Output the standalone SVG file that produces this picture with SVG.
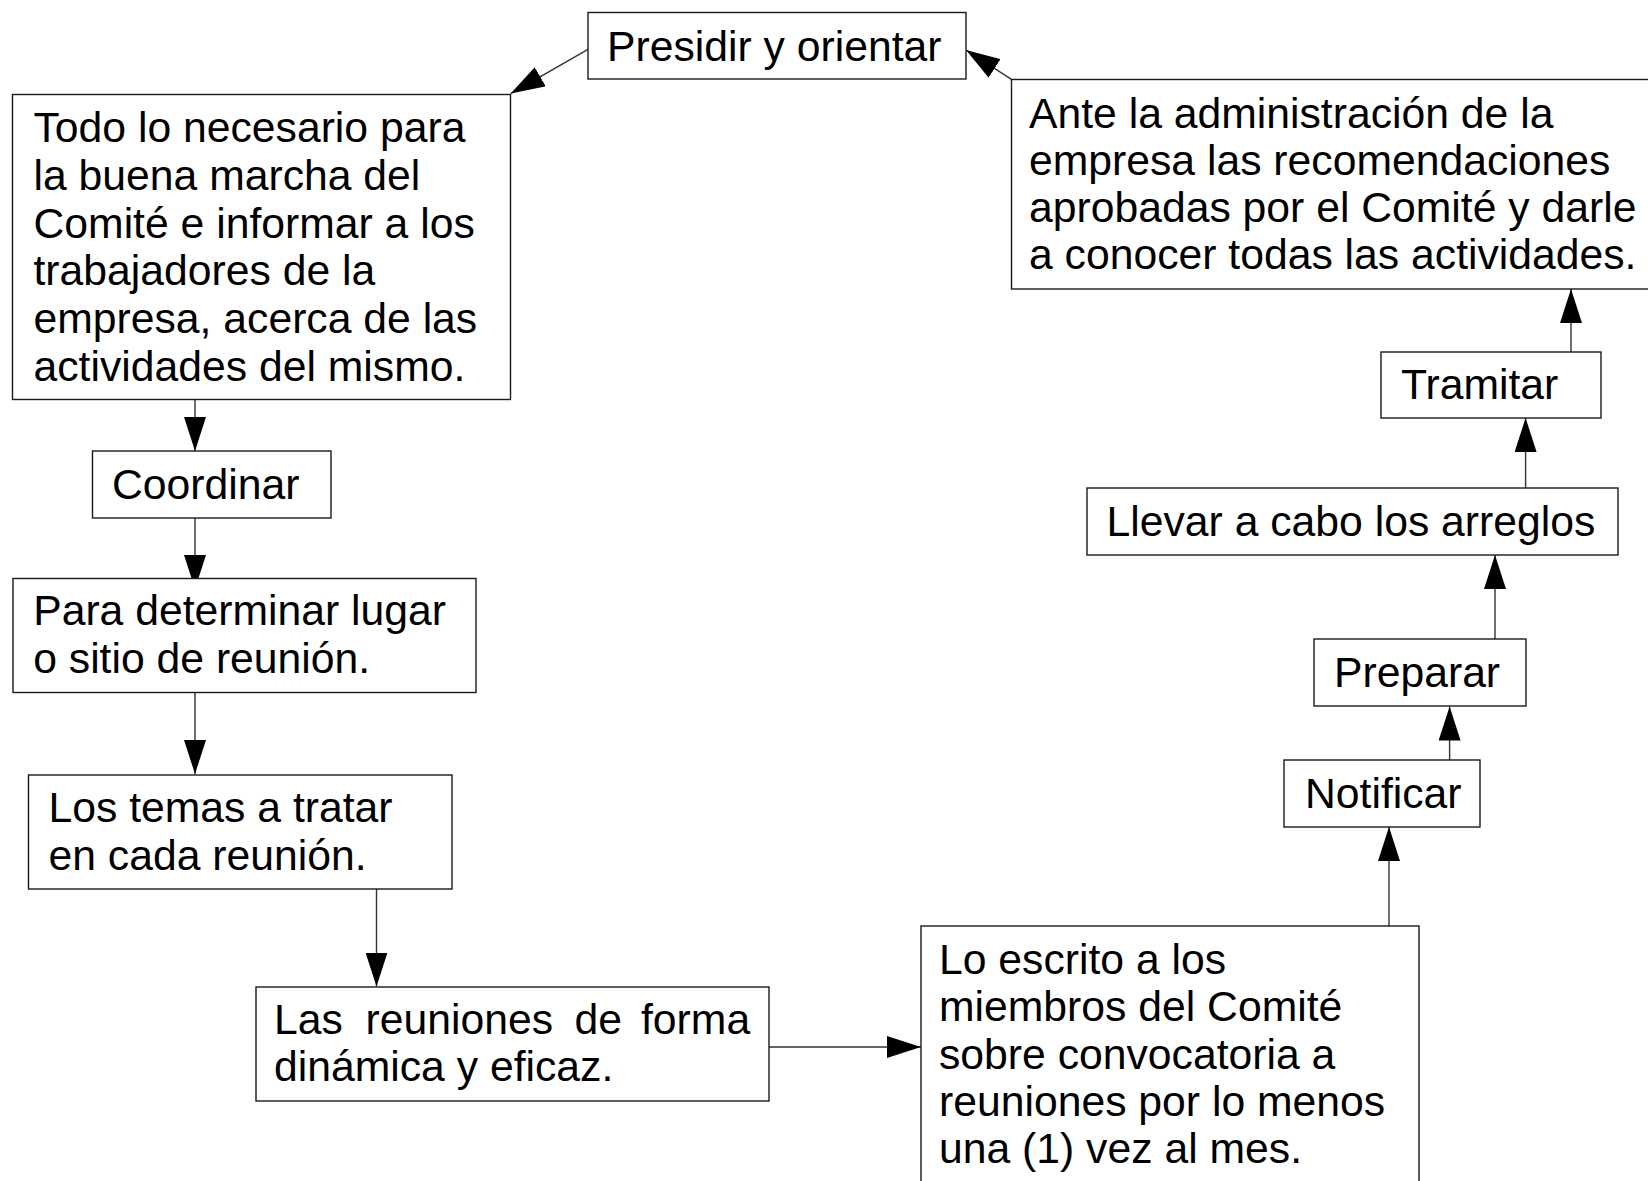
<svg xmlns="http://www.w3.org/2000/svg" width="1648" height="1181" viewBox="0 0 1648 1181">
<defs>
<marker id="arr" markerUnits="userSpaceOnUse" markerWidth="34" markerHeight="22" refX="34" refY="11" orient="auto">
<path d="M0,0 L34,11 L0,22 z" fill="#000"/>
</marker>
<style>
.box{fill:#fff;stroke:#1a1a1a;stroke-width:1.4}
.t{font-family:"Liberation Sans",Arial,sans-serif;font-size:42.7px;fill:#000}
.c{stroke:#333;stroke-width:1.4;fill:none;marker-end:url(#arr)}
</style>
</defs>
<rect width="1648" height="1181" fill="#fff"/>
<g id="connectors">
<line class="c" x1="588" y1="49.3" x2="510.7" y2="93.6"/>
<line class="c" x1="1011.5" y1="79.3" x2="966" y2="50"/>
<line class="c" x1="195" y1="400" x2="195" y2="451"/>
<line class="c" x1="195" y1="518" x2="195" y2="589"/>
<line class="c" x1="195" y1="693" x2="195" y2="774"/>
<line class="c" x1="376.5" y1="889" x2="376.5" y2="986.5"/>
<line class="c" x1="769" y1="1047" x2="921" y2="1047"/>
<line class="c" x1="1389" y1="926" x2="1389" y2="827"/>
<line class="c" x1="1449.6" y1="760" x2="1449.6" y2="706.5"/>
<line class="c" x1="1495" y1="639" x2="1495" y2="555"/>
<line class="c" x1="1525.6" y1="488" x2="1525.6" y2="418"/>
<line class="c" x1="1571" y1="352" x2="1571" y2="289"/>
</g>
<g id="presidir">
<rect class="box" x="588" y="12.5" width="378" height="66.5"/>
<text class="t" x="607" y="61">Presidir y orientar</text>
</g>
<g id="todo">
<rect class="box" x="12.5" y="94.5" width="498" height="305"/>
<text class="t"><tspan x="33.5" y="142.3">Todo lo necesario para</tspan><tspan x="33.5" y="190">la buena marcha del</tspan><tspan x="33.5" y="237.7">Comité e informar a los</tspan><tspan x="33.5" y="285.4">trabajadores de la</tspan><tspan x="33.5" y="333.1">empresa, acerca de las</tspan><tspan x="33.5" y="380.8">actividades del mismo.</tspan></text>
</g>
<g id="coordinar">
<rect class="box" x="92.5" y="451" width="238.5" height="67"/>
<text class="t" x="112" y="499">Coordinar</text>
</g>
<g id="para">
<rect class="box" x="13" y="578.5" width="463" height="114"/>
<text class="t"><tspan x="33.2" y="625">Para determinar lugar</tspan><tspan x="33.2" y="672.5">o sitio de reunión.</tspan></text>
</g>
<g id="temas">
<rect class="box" x="28.5" y="775" width="423.5" height="114"/>
<text class="t"><tspan x="48.5" y="821.7">Los temas a tratar</tspan><tspan x="48.5" y="869.5">en cada reunión.</tspan></text>
</g>
<g id="reuniones">
<rect class="box" x="256" y="987" width="513" height="114"/>
<text class="t"><tspan x="274" y="1034">Las</tspan><tspan x="365.5" y="1034">reuniones</tspan><tspan x="574.5" y="1034">de</tspan><tspan x="641" y="1034">forma</tspan><tspan x="274" y="1081">dinámica y eficaz.</tspan></text>
</g>
<g id="escrito">
<rect class="box" x="921" y="926" width="498" height="275"/>
<text class="t"><tspan x="939" y="974">Lo escrito a los</tspan><tspan x="939" y="1021.3">miembros del Comité</tspan><tspan x="939" y="1068.6">sobre convocatoria a</tspan><tspan x="939" y="1115.9">reuniones por lo menos</tspan><tspan x="939" y="1163.2">una (1) vez al mes.</tspan></text>
</g>
<g id="notificar">
<rect class="box" x="1284" y="760" width="196" height="67"/>
<text class="t" x="1305" y="807.5">Notificar</text>
</g>
<g id="preparar">
<rect class="box" x="1314" y="639" width="212" height="67"/>
<text class="t" x="1334" y="686.5">Preparar</text>
</g>
<g id="llevar">
<rect class="box" x="1087" y="488" width="531" height="67"/>
<text class="t" x="1106.5" y="536">Llevar a cabo los arreglos</text>
</g>
<g id="tramitar">
<rect class="box" x="1381" y="352" width="220" height="66"/>
<text class="t" x="1401" y="399">Tramitar</text>
</g>
<g id="ante">
<rect class="box" x="1011.5" y="79.5" width="640" height="209.5"/>
<text class="t"><tspan x="1029" y="127.5">Ante la administración de la</tspan><tspan x="1029" y="174.8">empresa las recomendaciones</tspan><tspan x="1029" y="222.1">aprobadas por el Comité y darle</tspan><tspan x="1029" y="269.4">a conocer todas las actividades.</tspan></text>
</g>
</svg>
